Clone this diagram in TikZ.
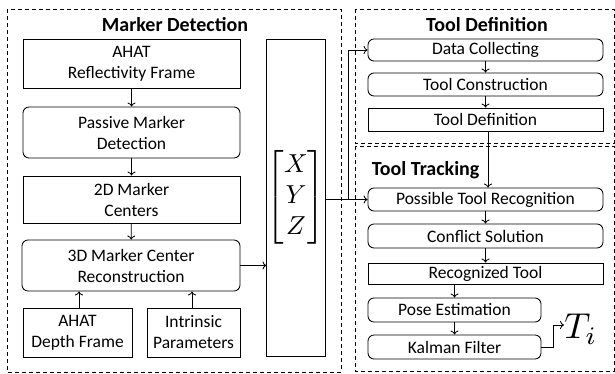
\documentclass[tikz,border=0pt]{standalone}
\usepackage{amsmath}
\usepackage{graphicx}
\usepackage{fontspec}
\setmainfont{Carlito}
\usetikzlibrary{calc,arrows.meta}

\begin{document}
\begin{tikzpicture}[x=1pt,y=-1pt,line width=0.85pt,
        box/.style={draw,align=center,inner sep=0pt,font=\fontsize{17.5}{21}\selectfont},
        rbox/.style={box,rounded corners=6pt},
        frame/.style={draw,dashed,line width=0.85pt,dash pattern=on 4pt off 3pt},
        title/.style={font=\fontsize{20}{24}\selectfont\bfseries},
        arr/.style={-{To[length=4pt,width=8pt]}}]
        \useasboundingbox (0,0) rectangle (615,373);
        \draw[frame] (7,9) rectangle (341,372);
        \draw[frame] (355,9) rectangle (614,143);
        \draw[frame] (355,146) rectangle (614,371);
        \node[title] (mdtitle) at(175,25){Marker Detection};
        \node[title] (tdtitle) at(487,25){Tool Definition};
        \node[title,anchor=west] (tttitle) at(368,170){Tool Tracking};
        \node[box,minimum width=217,minimum height=49] (refl) at(131.5,63.5){AHAT\\Reflectivity Frame};
        \node[rbox,minimum width=217,minimum height=51] (passive) at(131.5,132.5){Passive Marker\\Detection};
        \node[box,minimum width=217,minimum height=47] (centers) at(131.5,199.5){2D Marker\\Centers};
        \node[rbox,minimum width=218,minimum height=51] (recon) at(131,265.5){3D Marker Center\\Reconstruction};
        \node[box,minimum width=109,minimum height=49] (depth) at(77.5,332.5){AHAT\\Depth Frame};
        \node[box,minimum width=93,minimum height=49] (intr) at(193.5,332.5){Intrinsic\\Parameters};
        \node[draw,minimum width=58,minimum height=317,inner sep=0pt] (xyz) at(296,197.5){\scalebox{2.6}{$\begin{bmatrix}X\\Y\\Z\end{bmatrix}$}};
        \node[rbox,minimum width=235,minimum height=22] (data) at(485.5,50){Data Collecting};
        \node[rbox,minimum width=235,minimum height=23] (constr) at(485.5,84.5){Tool Construction};
        \node[box,minimum width=235,minimum height=23] (tdef) at(485.5,119.5){Tool Definition};
        \node[rbox,minimum width=235,minimum height=23] (poss) at(485.5,199.5){Possible Tool Recognition};
        \node[rbox,minimum width=235,minimum height=24] (confl) at(485.5,236){Conflict Solution};
        \node[box,minimum width=235,minimum height=21] (recog) at(485.5,273.5){Recognized Tool};
        \node[rbox,minimum width=173,minimum height=24] (pose) at(454.5,310){Pose Estimation};
        \node[rbox,minimum width=173,minimum height=24] (kalman) at(454.5,347){Kalman Filter};
        \node[anchor=west,inner sep=0pt] (ti) at(564,329){\scalebox{3.6}{$T_i$}};
        \coordinate (split) at(348,199.5);
        \coordinate (bend) at(553,325);
        \draw[arr] (refl) -- (passive);
        \draw[arr] (passive) -- (centers);
        \draw[arr] (centers) -- (recon);
        \draw[arr] (depth.north -| 79,0) -- (recon.south -| 79,0);
        \draw[arr] (intr.north -| 192,0) -- (recon.south -| 192,0);
        \draw[arr] (recon.east) -- (recon.east -| xyz.west);
        \draw[arr] (xyz.east |- poss.west) -- (poss.west);
        \draw[arr] (split) |- (data.west);
        \draw[arr] (data) -- (constr);
        \draw[arr] (constr) -- (tdef);
        \draw[arr] (tdef.south -| 488,0) -- (poss.north -| 488,0);
        \draw[arr] (poss) -- (confl);
        \draw[arr] (confl) -- (recog);
        \draw[arr] (recog.south -| pose.north) -- (pose.north);
        \draw[arr] (pose) -- (kalman);
        \draw[arr] (kalman.east) -| (bend) -- (bend -| ti.west);
    \end{tikzpicture}
\end{document}
